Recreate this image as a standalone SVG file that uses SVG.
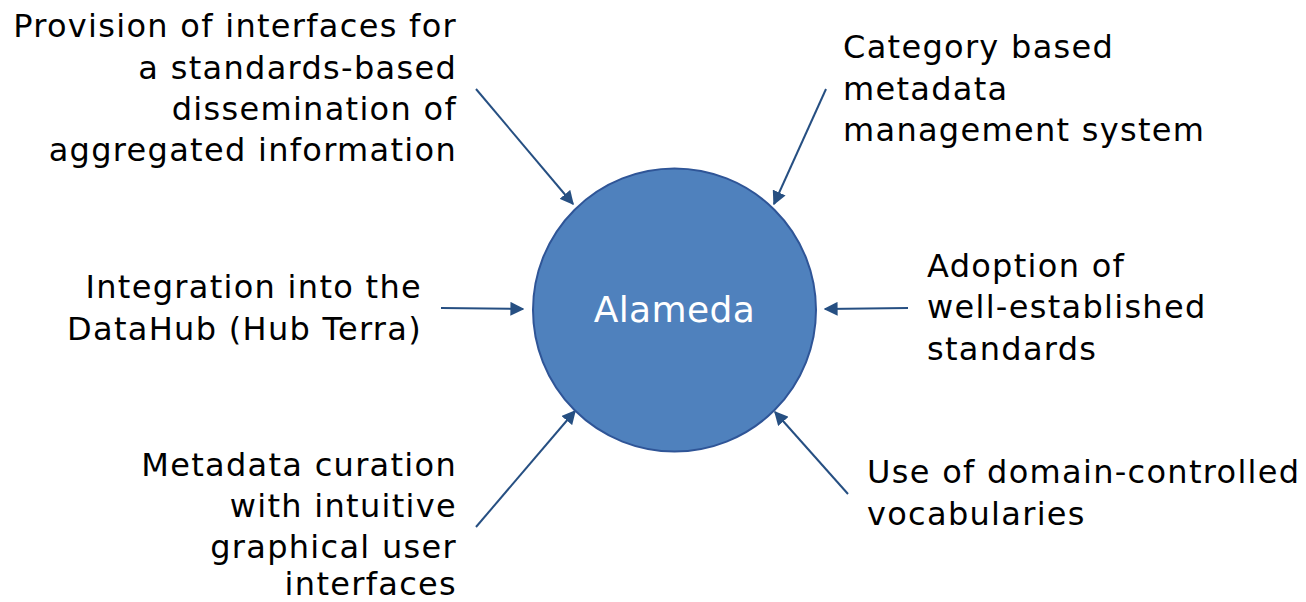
<svg xmlns="http://www.w3.org/2000/svg" width="1306" height="602" viewBox="0 0 1306 602">
  <style>
    .lbl { font-family: "DejaVu Sans", Verdana, sans-serif; font-size: 32px; letter-spacing: 1.3px; fill: #000; }
    .end { text-anchor: end; }
    .hub { font-family: "DejaVu Sans", Verdana, sans-serif; font-size: 36px; letter-spacing: 0.4px; fill: #fff; text-anchor: middle; }
    .arr { stroke: #264f82; stroke-width: 2; fill: none; marker-end: url(#head); }
  </style>
  <defs>
    <marker id="head" viewBox="0 0 10 10" refX="9" refY="5" markerWidth="7" markerHeight="7" orient="auto" markerUnits="strokeWidth">
      <path d="M0,0 L10,5 L0,10 Z" fill="#264f82"/>
    </marker>
  </defs>
  <rect width="1306" height="602" fill="#fff"/>

  <g id="connectors">
    <line class="arr" x1="476" y1="89" x2="573" y2="204"/>
    <line class="arr" x1="826" y1="89" x2="774" y2="204"/>
    <line class="arr" x1="441" y1="308" x2="523" y2="309"/>
    <line class="arr" x1="908" y1="308" x2="825" y2="309"/>
    <line class="arr" x1="476" y1="527" x2="575" y2="411"/>
    <line class="arr" x1="848" y1="494" x2="775" y2="412"/>
  </g>

  <g id="alameda">
    <circle cx="674.5" cy="310" r="141.5" fill="#4f81bd" stroke="#2f5597" stroke-width="2"/>
    <text class="hub" x="674.5" y="322">Alameda</text>
  </g>

  <g id="interfaces">
    <text class="lbl end" x="457" y="37">Provision of interfaces for</text>
    <text class="lbl end" x="457" y="79">a standards-based</text>
    <text class="lbl end" x="457" y="120">dissemination of</text>
    <text class="lbl end" x="457" y="161">aggregated information</text>
  </g>

  <g id="category">
    <text class="lbl" x="843" y="58">Category based</text>
    <text class="lbl" x="843" y="100">metadata</text>
    <text class="lbl" x="843" y="141">management system</text>
  </g>

  <g id="integration">
    <text class="lbl end" x="422" y="298">Integration into the</text>
    <text class="lbl end" x="422" y="340">DataHub (Hub Terra)</text>
  </g>

  <g id="adoption">
    <text class="lbl" x="927" y="277">Adoption of</text>
    <text class="lbl" x="927" y="318">well-established</text>
    <text class="lbl" x="927" y="360">standards</text>
  </g>

  <g id="curation">
    <text class="lbl end" x="457" y="476">Metadata curation</text>
    <text class="lbl end" x="457" y="517">with intuitive</text>
    <text class="lbl end" x="457" y="558">graphical user</text>
    <text class="lbl end" x="457" y="595">interfaces</text>
  </g>

  <g id="vocabularies">
    <text class="lbl" x="867" y="483">Use of domain-controlled</text>
    <text class="lbl" x="867" y="525">vocabularies</text>
  </g>
</svg>
